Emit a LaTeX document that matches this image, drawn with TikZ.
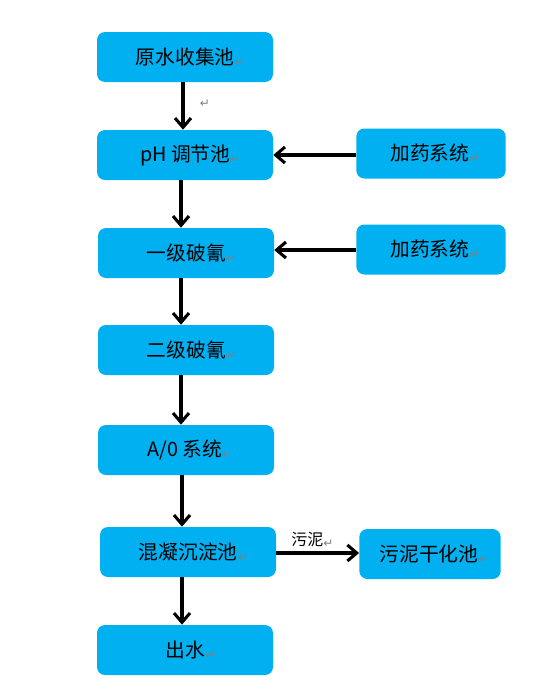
\documentclass[tikz,border=0pt]{standalone}
\usepackage{fontspec}
\setmainfont{Noto Sans CJK SC}
\newfontfamily\markfont{DejaVu Sans}
\usepackage{xcolor}
\usetikzlibrary{calc,arrows.meta}
\definecolor{boxblue}{HTML}{00B0F0}
\newcommand{\pmark}{{\markfont\fontsize{9}{10}\selectfont\color{gray}\raisebox{-0.3ex}{↵}}}

\begin{document}
\begin{tikzpicture}[x=0.75pt, y=-0.75pt,
  stepbox/.style={fill=boxblue, rounded corners=6pt, minimum width=132pt, minimum height=37.5pt, inner sep=0pt, font=\fontsize{14.8}{17}\selectfont},
  sidebox/.style={stepbox, minimum width=110pt},
  flow/.style={-{Straight Barb[length=7pt, width=12pt]}, line width=2.3pt, black}]
\useasboundingbox (0,0) rectangle (556,700);
\node[stepbox] (raw) at (185,57) {\hspace{8pt}原水收集池\pmark};
\node[stepbox] (ph) at (185,155) {\hspace{8pt}pH 调节池\pmark};
\node[stepbox] (cn1) at (186,253) {\hspace{8pt}一级破氰\pmark};
\node[stepbox] (cn2) at (186,350) {\hspace{8pt}二级破氰\pmark};
\node[stepbox] (ao) at (186,450) {\hspace{6pt}A/0 系统\pmark};
\node[stepbox] (settle) at (188,552) {\hspace{8pt}混凝沉淀池\pmark};
\node[stepbox] (out) at (185,650) {\hspace{8pt}出水\pmark};
\node[sidebox, minimum width=112pt] (dose1) at (431,153.5) {\hspace{6pt}加药系统\pmark};
\node[sidebox, minimum width=112pt] (dose2) at (431,249.5) {\hspace{6pt}加药系统\pmark};
\node[sidebox, minimum width=106pt] (sludge) at (430,554) {\hspace{6pt}污泥干化池\pmark};
\node (stray) at (205,104) {\pmark};
\draw[flow] (raw.south -| 183,0) -- (ph.north -| 183,0);
\draw[flow] (ph.south -| 181,0) -- (cn1.north -| 181,0);
\draw[flow] (cn1.south -| 181,0) -- (cn2.north -| 181,0);
\draw[flow] (cn2.south -| 181,0) -- (ao.north -| 181,0);
\draw[flow] (ao.south -| 182,0) -- (settle.north -| 182,0);
\draw[flow] (settle.south -| 182,0) -- (out.north -| 182,0);
\draw[flow] (dose1.west |- 0,155) -- (ph.east |- 0,155);
\draw[flow] (dose2.west |- 0,250) -- (cn1.east |- 0,250);
\draw[flow] (settle.east |- 0,553) -- node[above, font=\fontsize{12}{13}\selectfont, xshift=-4pt] (sludgelabel) {污泥\pmark} (sludge.west |- 0,553);
\end{tikzpicture}
\end{document}
